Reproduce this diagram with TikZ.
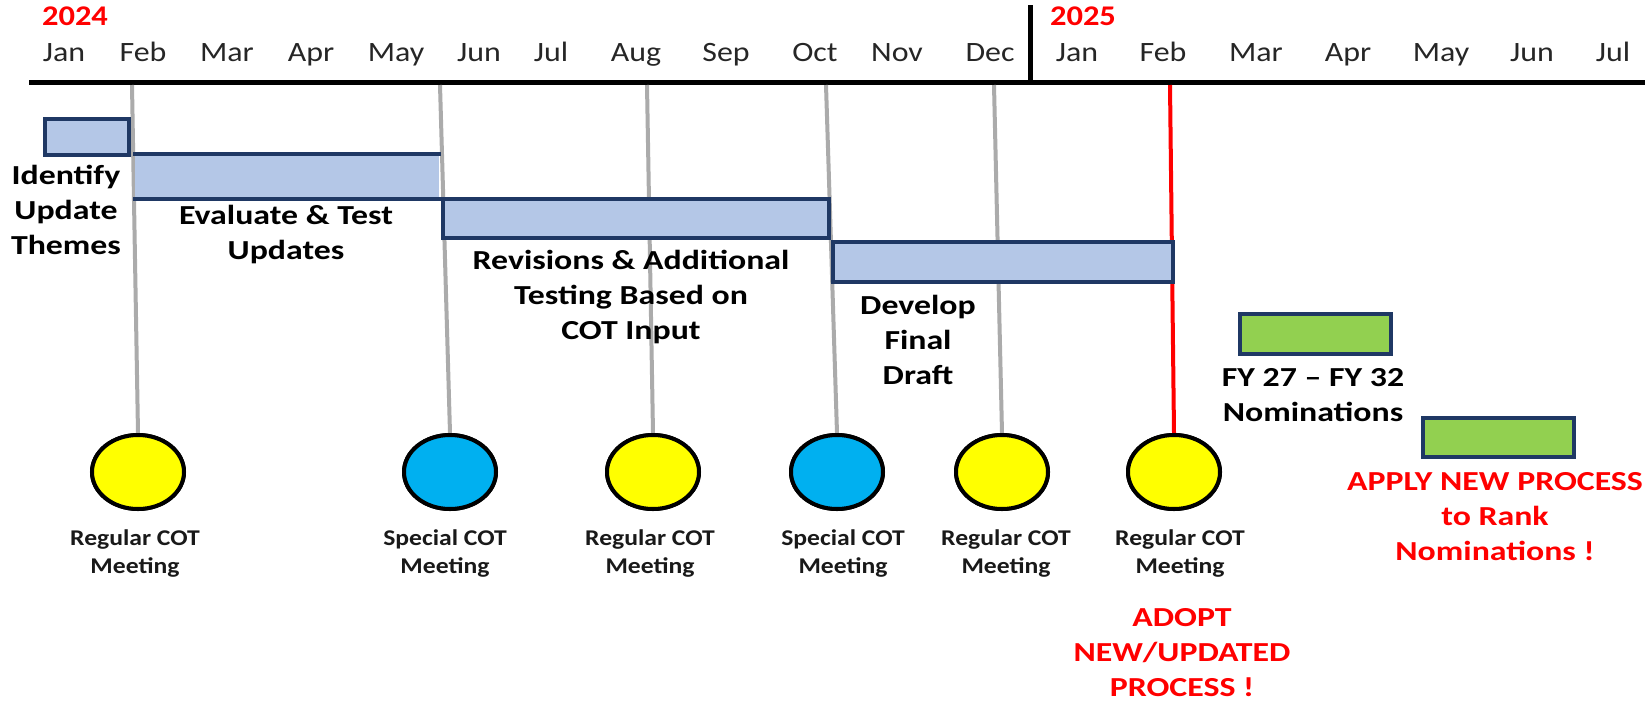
\documentclass[tikz,border=0pt]{standalone}
\usepackage{fontspec}
\setmainfont{Carlito}[FakeStretch=1.14]
\newfontfamily\labelfont{Carlito}[FakeStretch=1.23, Ligatures=TeX]
\usetikzlibrary{shapes.geometric,positioning,calc}

\definecolor{barblue}{HTML}{B4C7E7}
\definecolor{barnavy}{HTML}{1F3864}
\definecolor{bargreen}{HTML}{92D050}
\definecolor{meetyellow}{HTML}{FFFF00}
\definecolor{meetblue}{HTML}{00B0F0}
\definecolor{stemgrey}{HTML}{ABABAB}

\begin{document}
\begin{tikzpicture}[x=1pt, y=-1pt,
    month/.style={font=\fontsize{28}{34}\selectfont, text=black!85, inner sep=0pt, anchor=base},
    yearlabel/.style={font=\bfseries\fontsize{28.5}{34}\selectfont, text=red, inner sep=0pt, anchor=base},
    task/.style={font=\labelfont\bfseries\fontsize{27.5}{35}\selectfont, align=center, inner sep=0pt},
    redtask/.style={task, text=red},
    meetlabel/.style={font=\bfseries\fontsize{22.5}{28}\selectfont, align=center, inner sep=0pt, text=black!90},
    bar/.style={rectangle, draw=barnavy, line width=4pt, fill=barblue, inner sep=0pt},
    greenbar/.style={bar, fill=bargreen},
    meeting/.style={ellipse, draw=black, line width=4pt, inner sep=0pt, minimum width=92pt, minimum height=74pt},
    stem/.style={draw=stemgrey, line width=4pt},
]
    \useasboundingbox (0,0) rectangle (1649,702);

    % time axis
    \coordinate (axisL) at (29,82);
    \coordinate (axisR) at (1645,82);
    \coordinate (yearT) at (1030,5);
    \coordinate (yearB) at (1030,82);
    \draw[line width=5pt] (axisL) -- (axisR);
    \draw[line width=5pt] (yearT) -- (yearB);

    \node[yearlabel] (y2024) at (75,25) {2024};
    \node[yearlabel] (y2025) at (1083,25) {2025};
    \foreach \x/\mon [count=\i] in {64/Jan, 143/Feb, 227/Mar, 311/Apr, 396/May, 479/Jun,
        551/Jul, 636/Aug, 726/Sep, 815/Oct, 897/Nov, 990/Dec,
        1077/Jan, 1163/Feb, 1256/Mar, 1348/Apr, 1441/May, 1532/Jun, 1613/Jul}
        \node[month] (mon\i) at (\x,61) {\mon};

    % meetings
    \node[meeting, fill=meetyellow] (m1) at (138,472) {};
    \node[meeting, fill=meetblue]   (m2) at (450,472) {};
    \node[meeting, fill=meetyellow] (m3) at (653,472) {};
    \node[meeting, fill=meetblue]   (m4) at (837,472) {};
    \node[meeting, fill=meetyellow] (m5) at (1002,472) {};
    \node[meeting, fill=meetyellow] (m6) at (1174,472) {};

    % stems from the axis
    \foreach \x/\m in {132/m1, 440/m2, 647/m3, 826/m4, 994/m5}
        \coordinate (top\m) at (\x,85);
    \coordinate (topm6) at (1170,85);
    \foreach \m in {m1,m2,m3,m4,m5}
        \draw[stem] (top\m) -- (\m.north);
    \draw[red, line width=4pt] (topm6) -- (m6.north);
    % redraw meetings over the stems
    \node[meeting, fill=meetyellow] at (m1) {};
    \node[meeting, fill=meetblue]   at (m2) {};
    \node[meeting, fill=meetyellow] at (m3) {};
    \node[meeting, fill=meetblue]   at (m4) {};
    \node[meeting, fill=meetyellow] at (m5) {};
    \node[meeting, fill=meetyellow] at (m6) {};

    % task bars
    \node[bar, minimum width=84pt, minimum height=36pt] (barident) at (87,137) {};
    \node[bar, draw=none, minimum width=304pt, minimum height=41pt] (bareval) at (287,176.5) {};
    \draw[barnavy, line width=4pt] (bareval.north west) -- (bareval.north east)
        (bareval.south west) -- (bareval.south east);
    \node[bar, minimum width=386pt, minimum height=39pt] (barrev) at (636,218.5) {};
    \node[bar, minimum width=340pt, minimum height=40pt] (bardev) at (1003,262) {};
    \node[greenbar, minimum width=151pt, minimum height=40pt] (barnom) at (1315.5,334) {};
    \node[greenbar, minimum width=151pt, minimum height=39pt] (barrank) at (1498.5,437.5) {};

    % task labels
    \node[task] (identify) at (66,210) {Identify\\Update\\Themes};
    \node[task] (evaluate) at (286,234.5) {Evaluate \& Test\\Updates};
    \node[task] (revisions) at (631,297) {Revisions \& Additional\\Testing Based on\\COT Input};
    \node[task] (develop) at (918,340) {Develop\\Final\\Draft};
    \node[task] (nominations) at (1313,395.5) {FY 27 -- FY 32\\Nominations};
    \node[redtask] (adopt) at (1182,653) {ADOPT\\NEW/UPDATED\\PROCESS !};
    \node[redtask] (apply) at (1495,517) {APPLY NEW PROCESS\\to Rank\\Nominations !};

    % meeting labels
    \node[meetlabel] (l1) at (135,554) {Regular COT\\Meeting};
    \node[meetlabel] (l2) at (445,554) {Special COT\\Meeting};
    \node[meetlabel] (l3) at (650,554) {Regular COT\\Meeting};
    \node[meetlabel] (l4) at (843,554) {Special COT\\Meeting};
    \node[meetlabel] (l5) at (1006,554) {Regular COT\\Meeting};
    \node[meetlabel] (l6) at (1180,554) {Regular COT\\Meeting};
\end{tikzpicture}
\end{document}
